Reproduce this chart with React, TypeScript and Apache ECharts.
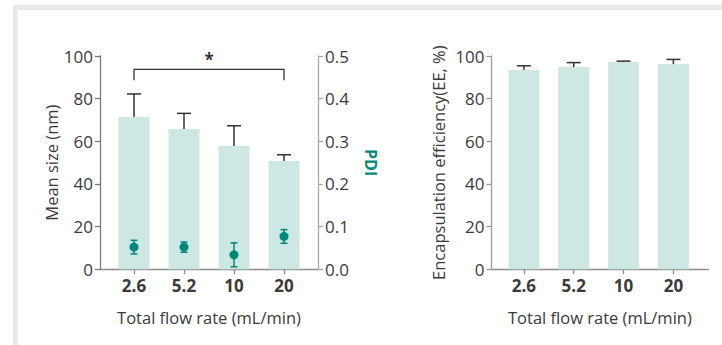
import React, { useEffect, useRef } from "react";
import * as echarts from "echarts";

const categories = ["2.6", "5.2", "10", "20"];
const catPos = [1, 2, 3, 4];
const sizeMean = [71.4, 65.8, 57.8, 50.8];
const sizeErr = [10.8, 7.3, 9.5, 2.9];
const pdiMean = [0.052, 0.052, 0.034, 0.077];
const pdiErr = [0.016, 0.012, 0.028, 0.016];
const eeMean = [93.4, 94.8, 97.2, 96.2];
const eeErr = [2.0, 2.1, 0.4, 2.2];
const sigPair = [1, 4];
const sigLevel = [93.75, 88.6];
const sigLabel = "*";

const FONT = "'Open Sans', 'Noto Sans', sans-serif";
const TEXT = "#3a3a3a";
const BAR = "#cde8e3";
const TEAL = "#00877b";
const AXIS = "#8c8c8c";
const NAME_SIZE = 16.5;
const TICK_SIZE = 17;

export default function App() {
  const ref = useRef<HTMLDivElement>(null);
  useEffect(() => {
    if (!ref.current) return;
    const chart = echarts.init(ref.current, undefined, { renderer: "svg" });

    const xAxisCfg = (gridIndex: number, min: number, max: number) => ({
      type: "value",
      gridIndex,
      min,
      max,
      axisLine: { show: true, onZero: false, lineStyle: { color: AXIS, width: 1.3 } },
      axisTick: { show: true, customValues: catPos, length: 5, lineStyle: { color: AXIS, width: 1.3 } },
      axisLabel: {
        customValues: catPos,
        formatter: (v: number) => categories[Math.round(v) - 1],
        fontWeight: "bold",
        fontSize: TICK_SIZE,
        color: TEXT,
        fontFamily: FONT,
        margin: 8,
      },
      splitLine: { show: false },
      name: "Total flow rate (mL/min)",
      nameLocation: "middle",
      nameGap: 40,
      nameTextStyle: { fontSize: NAME_SIZE, color: TEXT, fontFamily: FONT },
    });

    const yAxisCfg = (gridIndex: number, max: number, interval: number, color: string, extra: any) => ({
      type: "value",
      gridIndex,
      min: 0,
      max,
      interval,
      axisLine: { show: true, lineStyle: { color, width: 1.3 } },
      axisTick: { show: true, length: 5, lineStyle: { color, width: 1.3 } },
      axisLabel: { fontSize: TICK_SIZE, color: TEXT, fontFamily: FONT, margin: 7 },
      splitLine: { show: false },
      nameLocation: "middle",
      ...extra,
    });

    const errRender = (half: number, color: string, both: boolean) => (params: any, api: any) => {
      const x = api.value(0);
      const m = api.value(1);
      const e = api.value(2);
      const top = api.coord([x, m + e]);
      const low = api.coord([x, both ? m - e : m]);
      const children: any[] = [
        { type: "line", shape: { x1: top[0], y1: top[1], x2: low[0], y2: low[1] }, style: { stroke: color, lineWidth: 1.5 } },
        { type: "line", shape: { x1: top[0] - half, y1: top[1], x2: top[0] + half, y2: top[1] }, style: { stroke: color, lineWidth: 1.5 } },
      ];
      if (both) {
        children.push({ type: "line", shape: { x1: low[0] - half, y1: low[1], x2: low[0] + half, y2: low[1] }, style: { stroke: color, lineWidth: 1.5 } });
      }
      return { type: "group", children };
    };

    const bracketRender = (params: any, api: any) => {
      const x1 = api.value(0);
      const x2 = api.value(1);
      const yTop = api.value(2);
      const yBot = api.value(3);
      const a = api.coord([x1, yBot]);
      const b = api.coord([x1, yTop]);
      const c = api.coord([x2, yTop]);
      const d = api.coord([x2, yBot]);
      const mid = api.coord([(x1 + x2) / 2, yTop]);
      return {
        type: "group",
        children: [
          { type: "polyline", shape: { points: [a, b, c, d] }, style: { stroke: "#333", lineWidth: 1.3, fill: "none" } },
          {
            type: "text",
            x: mid[0],
            y: mid[1] - 10,
            style: { text: sigLabel, fontSize: 17, fontWeight: "bold", fill: "#333", align: "center", verticalAlign: "middle", fontFamily: FONT },
          },
        ],
      };
    };

    const option: any = {
      animation: false,
      textStyle: { fontFamily: FONT },
      graphic: [
        { type: "rect", left: 13, top: 5, shape: { width: 709, height: 5 }, style: { fill: "#e8e8e8" }, silent: true },
        { type: "rect", left: 13, top: 5, shape: { width: 4.6, height: 340 }, style: { fill: "#e8e8e8" }, silent: true },
      ],
      grid: [
        { left: 100, top: 56, width: 218, height: 213.3 },
        { left: 491.5, top: 56, width: 216.8, height: 213.3 },
      ],
      xAxis: [xAxisCfg(0, 0.32, 4.68), xAxisCfg(1, 0.35, 4.7)],
      yAxis: [
        yAxisCfg(0, 100, 20, "#7a7a7a", {
          name: "Mean size (nm)",
          nameGap: 37,
          nameTextStyle: { fontSize: NAME_SIZE, color: TEXT, fontFamily: FONT },
        }),
        yAxisCfg(0, 0.5, 0.1, "#a8a8a8", {
          position: "right",
          name: "PDI",
          nameRotate: -90,
          nameGap: 45,
          axisLabel: { fontSize: TICK_SIZE, color: TEXT, fontFamily: FONT, margin: 7, formatter: (v: number) => v.toFixed(1) },
          nameTextStyle: { fontSize: 16, color: TEAL, fontWeight: "bold", fontFamily: FONT },
        }),
        yAxisCfg(1, 100, 20, "#9a9a9a", {
          name: "Encapsulation efficiency(EE, %)",
          nameGap: 45,
          nameTextStyle: { fontSize: NAME_SIZE, color: TEXT, fontFamily: FONT },
        }),
      ],
      series: [
        {
          type: "bar",
          xAxisIndex: 0,
          yAxisIndex: 0,
          barWidth: 31,
          itemStyle: { color: BAR },
          data: catPos.map((x, i) => [x, sizeMean[i]]),
          z: 1,
        },
        {
          type: "custom",
          xAxisIndex: 0,
          yAxisIndex: 0,
          renderItem: errRender(7, "#333", false),
          data: catPos.map((x, i) => [x, sizeMean[i], sizeErr[i]]),
          z: 3,
        },
        {
          type: "custom",
          xAxisIndex: 0,
          yAxisIndex: 0,
          renderItem: bracketRender,
          encode: { x: [0, 1], y: [2, 3] },
          data: [[sigPair[0], sigPair[1], sigLevel[0], sigLevel[1]]],
          z: 3,
        },
        {
          type: "custom",
          xAxisIndex: 0,
          yAxisIndex: 1,
          renderItem: errRender(3.5, TEAL, true),
          data: catPos.map((x, i) => [x, pdiMean[i], pdiErr[i]]),
          z: 4,
        },
        {
          type: "scatter",
          xAxisIndex: 0,
          yAxisIndex: 1,
          symbolSize: 9,
          itemStyle: { color: TEAL, opacity: 1 },
          data: catPos.map((x, i) => [x, pdiMean[i]]),
          z: 5,
        },
        {
          type: "bar",
          xAxisIndex: 1,
          yAxisIndex: 2,
          barWidth: 31,
          itemStyle: { color: BAR },
          data: catPos.map((x, i) => [x, eeMean[i]]),
          z: 1,
        },
        {
          type: "custom",
          xAxisIndex: 1,
          yAxisIndex: 2,
          renderItem: errRender(7, "#333", false),
          data: catPos.map((x, i) => [x, eeMean[i], eeErr[i]]),
          z: 3,
        },
      ],
    };
    chart.setOption(option);
    return () => chart.dispose();
  }, []);

  return (
    <div
      ref={ref}
      style={{ position: "fixed", left: 0, top: 0, width: 722, height: 345, background: "#fff" }}
    />
  );
}
